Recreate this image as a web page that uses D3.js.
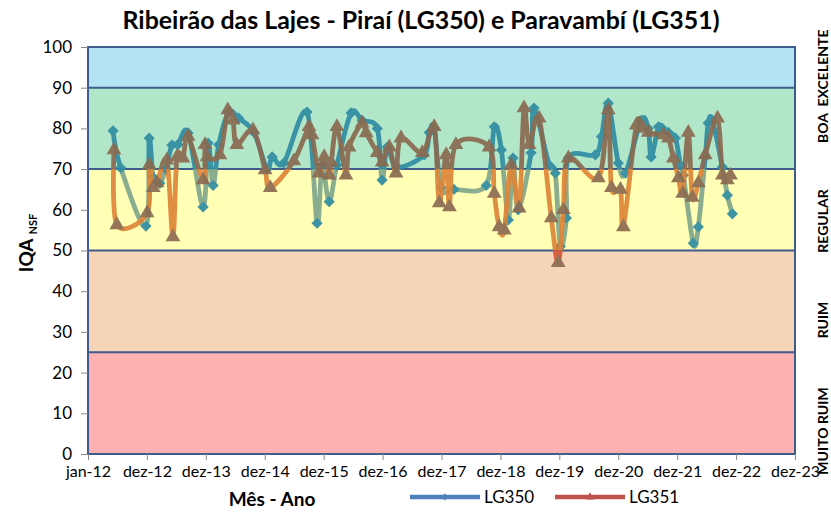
<!DOCTYPE html>
<html>
<head>
<meta charset="utf-8">
<script src="https://cdn.jsdelivr.net/npm/d3@7"></script>
<style>
  body { margin: 0; background: #fff; }
  svg { display: block; font-family: Lato, "Open Sans", sans-serif; }
</style>
</head>
<body>
<svg id="chart"></svg>
<script>
// LG350 - Piraí (datas de coleta e IQA)
const lg350Dates = [
  "2012-06-04","2012-07-22","2012-12-25","2013-01-14","2013-02-08","2013-03-21","2013-04-27",
  "2013-06-04","2013-07-10","2013-09-12","2013-12-14","2014-01-14","2014-02-14","2014-03-21",
  "2014-05-22","2014-07-23","2014-10-25","2015-01-14","2015-02-15","2015-04-28","2015-09-19",
  "2015-11-20","2015-12-21","2016-02-03","2016-03-22","2016-06-18","2016-08-25","2016-11-27",
  "2016-12-27","2017-01-28","2017-03-29","2017-09-14","2017-10-15","2017-11-15","2017-12-28",
  "2018-03-17","2018-10-03","2018-11-22","2019-01-05","2019-02-17","2019-03-18","2019-04-19",
  "2019-07-08","2019-07-26","2019-10-28","2019-12-05","2020-01-05","2020-02-12","2020-02-24",
  "2020-08-09","2020-09-16","2020-10-28","2020-12-29","2021-02-12","2021-05-20","2021-07-03",
  "2021-07-21","2021-09-04","2021-09-28","2021-11-05","2021-12-18","2022-01-18","2022-02-05",
  "2022-04-08","2022-05-09","2022-06-21","2022-07-09","2022-08-04","2022-10-05","2022-11-05",
  "2022-12-06"
];
const lg350Values = [
  79.4, 70.3, 56, 77.6, 68, 66.5, 70,
  75.9, 76, 78.9, 60.7, 76.4, 66, 76,
  84, 82.5, 79, 70, 73, 71.5, 84,
  56.7, 71, 62, 71, 83.8, 82, 80,
  67.3, 75.4, 70.5, 73.5, 79, 80, 65.4,
  65, 66, 80.4, 74.7, 57.5, 72.7, 60,
  74, 85, 71, 69, 51, 58, 72.7,
  73.5, 78, 86.2, 71.5, 69, 82, 80,
  73, 80.4, 80, 79, 77.6, 71, 68.5,
  51.8, 55.8, 73, 81.3, 82, 70.5, 63.6,
  59
];

// LG351 - Paracambi
const lg351Dates = [
  "2012-06-10","2012-06-28","2013-01-01","2013-01-14","2013-02-08","2013-03-03","2013-05-04",
  "2013-06-10","2013-07-05","2013-08-11","2013-09-12","2013-12-14","2013-12-26","2014-01-08",
  "2014-03-28","2014-05-16","2014-06-17","2014-07-11","2014-10-19","2015-01-02","2015-02-03",
  "2015-06-29","2015-10-01","2015-10-20","2015-12-02","2016-01-03","2016-02-03","2016-02-16",
  "2016-03-22","2016-05-17","2016-06-05","2016-08-25","2016-09-19","2016-11-27","2016-12-27",
  "2017-02-10","2017-03-23","2017-04-23","2017-09-02","2017-11-15","2017-12-16","2018-01-28",
  "2018-02-17","2018-03-29","2018-10-21","2018-11-22","2018-12-22","2019-01-23","2019-03-06",
  "2019-04-25","2019-05-25","2019-06-26","2019-08-27","2019-11-10","2019-12-23","2020-01-24",
  "2020-02-24","2020-08-28","2020-10-28","2020-11-17","2021-01-12","2021-01-30","2021-04-20",
  "2021-06-02","2021-07-03","2021-10-05","2021-11-05","2021-12-06","2022-01-06","2022-02-01",
  "2022-03-08","2022-04-02","2022-05-09","2022-06-21","2022-09-05","2022-10-05","2022-11-05",
  "2022-11-24"
];
const lg351Values = [
  74.7, 56.3, 59.2, 71, 65.4, 66.6, 72.2,
  53.3, 73, 72.7, 78, 67.3, 76, 73,
  73.5, 84.5, 82, 76, 79.6, 69.8, 65.4,
  72, 80.4, 78.4, 69, 73, 68.5, 71.7,
  80.4, 68.5, 75.4, 81.3, 78.9, 74, 71.7,
  75.4, 69, 77.6, 74, 80.4, 61.7, 73.5,
  60.7, 76, 75.4, 64, 55.8, 55, 71,
  60.4, 85, 76, 82.5, 58, 47, 60,
  72.7, 67.8, 84.5, 65.4, 65, 55.8, 80.8,
  80, 79, 78.4, 77.6, 72.7, 67.8, 64,
  79, 63, 66.6, 73.5, 82.5, 68.5, 67.3,
  68.5
];

// faixas de qualidade
const bandNames = ["MUITO RUIM", "RUIM", "REGULAR", "BOA", "EXCELENTE"];
const bandLow = [0, 25, 50, 70, 90];
const bandHigh = [25, 50, 70, 90, 100];
const bandColors = ["#ffb1b1", "#f6d4b8", "#ffffb6", "#b1e6c9", "#b4e4f4"];
const bandLabelY = [431, 320, 221, 128, 68];

const yTicks = d3.range(0, 101, 10);
const monthNames = ["jan","fev","mar","abr","mai","jun","jul","ago","set","out","nov","dez"];

const width = 831, height = 513;
const margin = {top: 47, right: 36, bottom: 59, left: 88};
const plotW = width - margin.left - margin.right;
const plotH = height - margin.top - margin.bottom;

const svg = d3.select("#chart").attr("width", width).attr("height", height);

const start = new Date(2012, 0, 1);
const end = d3.timeDay.offset(start, 12 * 365);
const xTicks = d3.range(13).map(i => d3.timeDay.offset(start, i * 365));

const x = d3.scaleTime().domain([start, end]).range([0, plotW]);
const y = d3.scaleLinear().domain([0, 100]).range([plotH, 0]);

const g = svg.append("g").attr("transform", `translate(${margin.left},${margin.top})`);

// faixas
g.selectAll("rect.band")
  .data(bandNames)
  .join("rect")
  .attr("class", "band")
  .attr("x", 0)
  .attr("width", plotW)
  .attr("y", (d, i) => y(bandHigh[i]))
  .attr("height", (d, i) => y(bandLow[i]) - y(bandHigh[i]))
  .attr("fill", (d, i) => bandColors[i]);

g.selectAll("line.limit")
  .data(bandLow.slice(1))
  .join("line")
  .attr("x1", 0).attr("x2", plotW)
  .attr("y1", d => y(d)).attr("y2", d => y(d))
  .attr("stroke", "#3e5c8c").attr("stroke-width", 2);

g.append("rect")
  .attr("width", plotW).attr("height", plotH)
  .attr("fill", "none").attr("stroke", "#3e5c8c").attr("stroke-width", 2);

// eixos
const yAxis = g.append("g")
  .call(d3.axisLeft(y).tickValues(yTicks).tickSize(7).tickPadding(9));
const xAxis = g.append("g")
  .attr("transform", `translate(0,${plotH})`)
  .call(d3.axisBottom(x).tickValues(xTicks).tickSize(6).tickPadding(6)
    .tickFormat(d => monthNames[d.getMonth()] + "-" + String(d.getFullYear()).slice(2)));
[yAxis, xAxis].forEach(a => {
  a.select(".domain").remove();
  a.selectAll(".tick line").attr("stroke", "#888");
  a.selectAll("text").attr("fill", "#000").style("font-size", "17px")
    .style("font-family", "Lato, sans-serif");
});
xAxis.selectAll("text").style("font-size", "16px");

// series - linha com gradiente vertical (cor muda no limite 70 / 50)
const line = d3.line()
  .x(d => x(d.date))
  .y(d => y(d.value))
  .curve(d3.curveCatmullRom.alpha(0));

const series = [
  {name: "LG350", dates: lg350Dates, values: lg350Values, legend: "#4f81bd", marker: d3.symbolDiamond2,
   stops: [[100, "#2f8ca3"], [70, "#2f8ca3"], [70, "#80a78b"], [0, "#80a78b"]]},
  {name: "LG351", dates: lg351Dates, values: lg351Values, legend: "#c0504d", marker: d3.symbolTriangle,
   stops: [[100, "#8b6a50"], [70, "#8b6a50"], [70, "#de8538"], [50, "#de8538"], [50, "#d65838"], [0, "#d65838"]]}
];
const parse = d3.timeParse("%Y-%m-%d");
const defs = svg.append("defs");

series.forEach(s => {
  const gradId = "grad-" + s.name;
  defs.append("linearGradient")
    .attr("id", gradId)
    .attr("gradientUnits", "userSpaceOnUse")
    .attr("x1", 0).attr("x2", 0)
    .attr("y1", y(100)).attr("y2", y(0))
    .selectAll("stop")
    .data(s.stops)
    .join("stop")
    .attr("offset", d => (100 - d[0]) / 100)
    .attr("stop-color", d => d[1]);

  const pts = s.dates.map((d, i) => ({date: parse(d), value: s.values[i]}));
  const sg = g.append("g").attr("class", "serie").attr("opacity", 0.92);
  sg.append("path")
    .datum(pts)
    .attr("d", line)
    .attr("fill", "none")
    .attr("stroke", `url(#${gradId})`)
    .attr("stroke-width", 4.8)
    .attr("stroke-linejoin", "round");
  sg.selectAll("path.mk")
    .data(pts)
    .join("path")
    .attr("class", "mk")
    .attr("d", d3.symbol(s.marker, s.marker === d3.symbolTriangle ? 95 : 80))
    .attr("transform", d => `translate(${x(d.date)},${y(d.value)})`)
    .attr("fill", `url(#${gradId})`);
});

// titulos
svg.append("text")
  .attr("x", 421).attr("y", 29)
  .attr("text-anchor", "middle")
  .attr("textLength", 597)
  .attr("lengthAdjust", "spacingAndGlyphs")
  .style("font-size", "24px").style("font-weight", "bold")
  .text("Ribeirão das Lajes - Piraí (LG350) e Paravambí (LG351)");

svg.append("text")
  .attr("x", 272).attr("y", 506)
  .attr("text-anchor", "middle")
  .style("font-size", "19px").style("font-weight", "bold")
  .text("Mês - Ano");

const yt = svg.append("text")
  .attr("transform", "translate(33,243) rotate(-90)")
  .attr("text-anchor", "middle")
  .style("font-size", "19px").style("font-weight", "bold");
yt.append("tspan").text("IQA");
yt.append("tspan").attr("dx", 4).attr("dy", 4).style("font-size", "11px").text("NSF");

// rotulos das faixas
svg.selectAll("text.band")
  .data(bandNames)
  .join("text")
  .attr("class", "band")
  .attr("transform", (d, i) => `translate(828,${bandLabelY[i]}) rotate(-90)`)
  .attr("text-anchor", "middle")
  .style("font-size", "14px").style("font-weight", "bold")
  .text(d => d);

// legenda
const leg = svg.append("g").attr("transform", "translate(410,497)");
series.forEach((s, i) => {
  const lg = leg.append("g").attr("transform", `translate(${i * 145},0)`);
  lg.append("line").attr("x1", 0).attr("x2", 70).attr("stroke", s.legend).attr("stroke-width", 4.5);
  lg.append("path").attr("d", d3.symbol(s.marker, 30)).attr("transform", "translate(35,0)").attr("fill", s.legend);
  lg.append("text").attr("x", 74).attr("y", 6).style("font-size", "17px").text(s.name);
});
</script>
</body>
</html>
